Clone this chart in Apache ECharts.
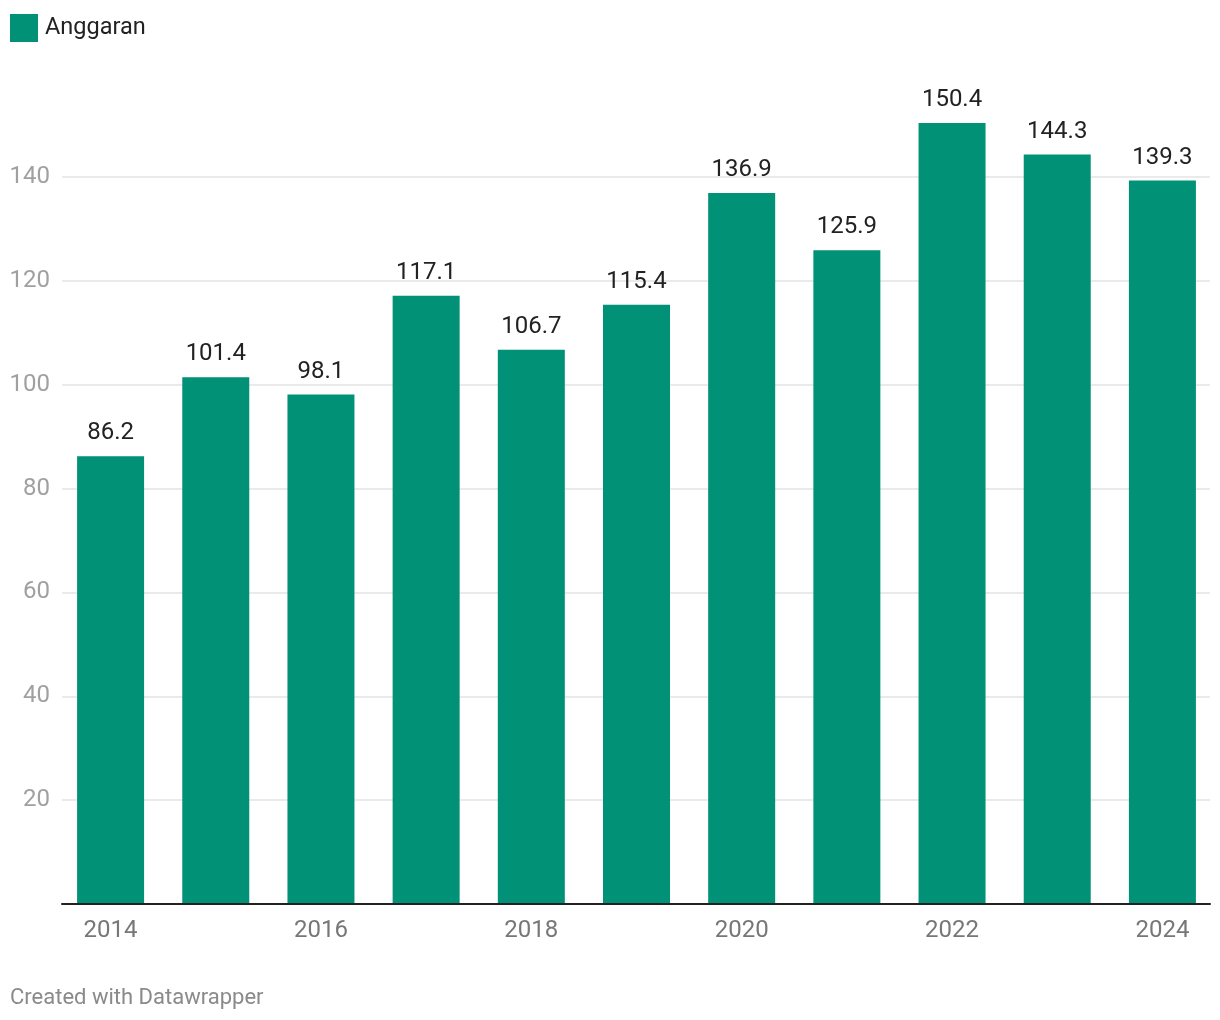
<!DOCTYPE html>
<html>
<head>
<meta charset="utf-8">
<script src="https://cdn.jsdelivr.net/npm/echarts@6/dist/echarts.min.js"></script>
<style>
html,body{margin:0;padding:0;background:#fff;}
#c{width:1220px;height:1020px;}
</style>
</head>
<body>
<div id="c"></div>
<script>
const years = ['2014','2015','2016','2017','2018','2019','2020','2021','2022','2023','2024'];
const anggaran = [86.2, 101.4, 98.1, 117.1, 106.7, 115.4, 136.9, 125.9, 150.4, 144.3, 139.3];
const seriesName = 'Anggaran';
const footer = 'Created with Datawrapper';

const FONT = 'Roboto';
const chart = echarts.init(document.getElementById('c'));
const yMax = 155;
chart.setOption({
  animation: false,
  textStyle: {fontFamily: FONT},
  legend: {
    left: 10, top: 14, padding: 0, itemWidth: 28, itemHeight: 28, icon: 'rect', itemGap: 8,
    textStyle: {fontSize: 23.5, color: '#222', fontFamily: FONT, padding: [0,0,0,2]},
    data: [seriesName]
  },
  graphic: [{
    type: 'text', left: 10, top: 987,
    style: {text: footer, fontSize: 22, fill: '#8a8a8a', fontFamily: FONT}
  }],
  grid: [
    {left: 58, right: 5, top: 99, bottom: 116},
    {left: 62, right: 10, top: 99, bottom: 116}
  ],
  xAxis: [
    {
      type: 'category', gridIndex: 0, data: years,
      axisLine: {show: false}, axisTick: {show: false},
      axisLabel: {interval: 1, fontSize: 24, color: '#777', margin: 15, fontFamily: FONT}
    },
    {
      type: 'value', gridIndex: 1, min: 0, max: 1, z: 10,
      axisLine: {show: true, onZero: false, lineStyle: {color: '#222', width: 2}},
      axisTick: {show: false}, axisLabel: {show: false}, splitLine: {show: false}
    }
  ],
  yAxis: [
    {
      type: 'value', gridIndex: 0, min: 0, max: yMax, interval: 20,
      axisLine: {show: false}, axisTick: {show: false}, axisLabel: {show: false}, splitLine: {show: false}
    },
    {
      type: 'value', gridIndex: 1, min: 0, max: yMax, interval: 20,
      axisLine: {show: false}, axisTick: {show: false},
      axisLabel: {
        fontSize: 24, color: '#a0a0a0', margin: 12, fontFamily: FONT,
        showMinLabel: false, showMaxLabel: false,
        formatter: v => (v % 20 === 0 && v > 0) ? String(v) : ''
      },
      splitLine: {show: true, showMinLine: false, showMaxLine: false, lineStyle: {color: '#e3e3e3', width: 1.5}}
    }
  ],
  series: [{
    name: seriesName, type: 'bar', xAxisIndex: 0, yAxisIndex: 0,
    data: anggaran, barWidth: 67,
    itemStyle: {color: '#009176'},
    label: {show: true, position: 'top', distance: 11, fontSize: 24, color: '#222', fontFamily: FONT,
      formatter: p => p.value.toFixed(1)}
  }]
});
</script>
</body>
</html>
